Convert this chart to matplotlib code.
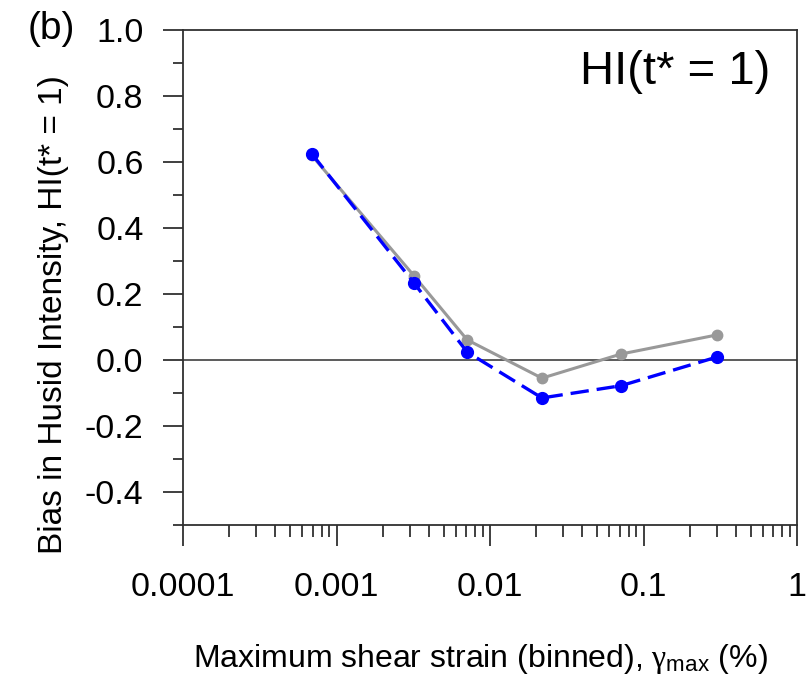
#!/usr/bin/env python3
"""Bias in Husid Intensity vs. binned maximum shear strain (panel b)."""

import numpy as np
import matplotlib
matplotlib.use("Agg")
import matplotlib.pyplot as plt
from matplotlib.ticker import FixedLocator, NullFormatter, FixedFormatter

plt.rcParams["font.family"] = ["Liberation Sans", "DejaVu Sans"]
plt.rcParams["mathtext.fontset"] = "custom"
plt.rcParams["mathtext.rm"] = "Liberation Sans"
plt.rcParams["mathtext.it"] = "Liberation Serif"

# ── data ──────────────────────────────────────────────────────────────────────
strain_bins = [6.9e-4, 3.2e-3, 7.1e-3, 0.0218, 0.0713, 0.301]
bias_gray = [0.62, 0.255, 0.061, -0.055, 0.018, 0.076]
bias_blue = [0.625, 0.233, 0.024, -0.115, -0.078, 0.009]

x_major = [1e-4, 1e-3, 1e-2, 1e-1, 1]
x_major_labels = ["0.0001", "0.001", "0.01", "0.1", "1"]
y_major = [-0.4, -0.2, 0.0, 0.2, 0.4, 0.6, 0.8, 1.0]
y_minor = [-0.5, -0.3, -0.1, 0.1, 0.3, 0.5, 0.7, 0.9]

fig = plt.figure(figsize=(8.07, 6.76), dpi=100)
ax = fig.add_axes([0.2268, 0.2234, 0.7608, 0.7322])

ax.axhline(0, color="#404040", lw=1.2, zorder=1)
ax.plot(strain_bins, bias_gray, color="#999999", lw=2.2, marker="o", ms=7.5,
        zorder=2)
ax.plot(strain_bins, bias_blue, color="#0000ff", lw=2.4, ls=(0, (5.5, 2.4)),
        marker="o", ms=8.5, zorder=3)

ax.set_xscale("log")
ax.set_xlim(1e-4, 1)
ax.set_ylim(-0.5, 1.0)

ax.xaxis.set_major_locator(FixedLocator(x_major))
ax.xaxis.set_major_formatter(FixedFormatter(x_major_labels))
minor_x = [m * d for d in [1e-4, 1e-3, 1e-2, 1e-1] for m in range(2, 10)]
ax.xaxis.set_minor_locator(FixedLocator(minor_x))
ax.xaxis.set_minor_formatter(NullFormatter())

ax.yaxis.set_major_locator(FixedLocator(y_major))
ax.yaxis.set_minor_locator(FixedLocator(y_minor))
ax.set_yticklabels([f"{v:.1f}" for v in y_major])

for sp in ax.spines.values():
    sp.set_linewidth(1.3)
    sp.set_color("#303030")

ax.tick_params(axis="both", which="both", direction="out", colors="#303030",
               labelcolor="black", width=1.3)
ax.tick_params(axis="y", which="major", length=14.4, pad=14, labelsize=24.5)
ax.tick_params(axis="y", which="minor", length=7.5)
ax.tick_params(axis="x", which="major", length=15, pad=19, labelsize=24.5)
ax.tick_params(axis="x", which="minor", length=8.5)

# axis labels are not centred on the axes in the original
ax.set_ylabel("Bias in Husid Intensity, HI(t* = 1)", fontsize=24)
ax.yaxis.set_label_coords(-0.186, 0.426)
ax.set_xlabel(r"Maximum shear strain (binned), $\gamma_{\rm max}$ (%)",
              fontsize=23)
ax.xaxis.set_label_coords(0.485, -0.236)

ax.text(0.956, 0.915, "HI(t* = 1)", transform=ax.transAxes, ha="right",
        va="center", fontsize=34)
fig.text(28 / 807, 1 - 29 / 676, "(b)", ha="left", va="center", fontsize=28)

fig.savefig("out.png", dpi=100)
